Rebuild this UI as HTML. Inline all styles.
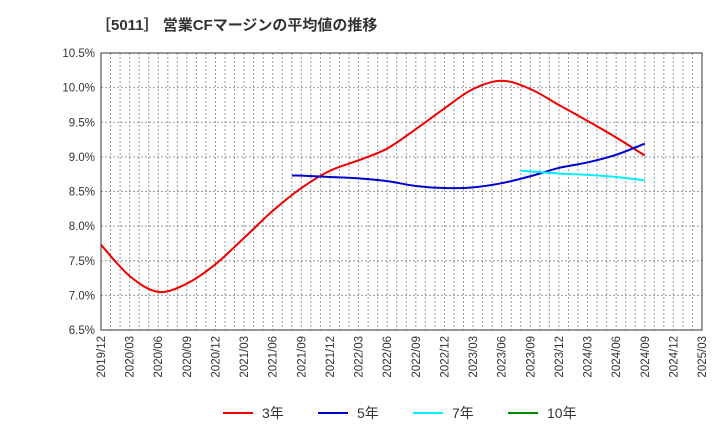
<!DOCTYPE html>
<html><head><meta charset="utf-8"><style>
body{margin:0;background:#fff;font-family:"Liberation Sans","Noto Sans CJK JP",sans-serif;}
</style></head><body>
<svg id="c" width="720" height="440" xmlns="http://www.w3.org/2000/svg">
<text x="96" y="30" font-size="15" font-weight="bold" fill="#333" font-family="Liberation Sans, Noto Sans CJK JP, sans-serif">［5011］ 営業CFマージンの平均値の推移</text>
<g id="grid"></g><g id="axes"></g><g id="series"></g>
<g font-size="14" fill="#333">
<g><line x1="223" y1="413" x2="253" y2="413" stroke="#e00" stroke-width="2"/><text x="262" y="418">3年</text></g>
<g><line x1="318" y1="413" x2="348" y2="413" stroke="#00c" stroke-width="2"/><text x="357" y="418">5年</text></g>
<g><line x1="413" y1="413" x2="443" y2="413" stroke="#0ef" stroke-width="2"/><text x="452" y="418">7年</text></g>
<g><line x1="508" y1="413" x2="538" y2="413" stroke="#080" stroke-width="2"/><text x="547" y="418">10年</text></g>
</g>
</svg>
<script>
const xLabels=["2019/12","2020/03","2020/06","2020/09","2020/12","2021/03","2021/06","2021/09","2021/12","2022/03","2022/06","2022/09","2022/12","2023/03","2023/06","2023/09","2023/12","2024/03","2024/06","2024/09","2024/12","2025/03"];
const yTicks=[6.5,7.0,7.5,8.0,8.5,9.0,9.5,10.0,10.5];
const s3Idx=[0,1,2,3,4,5,6,7,8,9,10,11,12,13,14,15,16,17,18,19];
const s3=[7.73,7.28,7.05,7.17,7.45,7.83,8.22,8.55,8.80,8.95,9.12,9.40,9.70,9.98,10.10,9.98,9.75,9.52,9.28,9.02];
const s5Idx=[6.67,7,8,9,10,11,12,13,14,15,16,17,18,19];
const s5=[8.73,8.73,8.71,8.69,8.65,8.58,8.55,8.56,8.62,8.72,8.84,8.92,9.03,9.19];
const s7Idx=[14.67,15,16,17,18,19];
const s7=[8.80,8.79,8.76,8.74,8.71,8.66];
const X0=101,X1=702,Y0=330,Y1=53;
const xs=i=>X0+(X1-X0)*i/21;
const ys=v=>Y0-(v-6.5)/4*(Y0-Y1);
const NS="http://www.w3.org/2000/svg";
function mk(t,a,p){const e=document.createElementNS(NS,t);for(const k in a)e.setAttribute(k,a[k]);p.appendChild(e);return e;}
const g=document.getElementById('grid'),ax=document.getElementById('axes'),se=document.getElementById('series');
for(let m=1;m<63;m++){const x=X0+(X1-X0)*m/63;const l=mk('line',{x1:x,x2:x,y1:Y1,y2:Y0,stroke:'#999','stroke-dasharray':'2,2'},g);

}
yTicks.forEach(v=>{const y=ys(v);const l=mk('line',{x1:X0,x2:X1,y1:y,y2:y,stroke:'#999','stroke-dasharray':'2,2'},g);


const t=mk('text',{x:X0-6,y:y+4,'text-anchor':'end','font-size':11.5,fill:'#333'},ax);t.textContent=v.toFixed(1)+'%';

});
xLabels.forEach((s,i)=>{const x=xs(i);const t=mk('text',{x:x+4,y:Y0+6,'text-anchor':'end','font-size':11.5,fill:'#333',transform:`rotate(-90 ${x+4} ${Y0+6})`},ax);t.textContent=s;

});
const r=mk('rect',{x:X0,y:Y1,width:X1-X0,height:Y0-Y1,fill:'none',stroke:'#333'},ax);


function path(idx,vals){const p=idx.map((i,k)=>[xs(i),ys(vals[k])]);let d=`M${p[0][0]},${p[0][1]}`;
for(let k=0;k<p.length-1;k++){const a=p[k-1]||p[k],b=p[k],c=p[k+1],e=p[k+2]||c;
d+=` C${b[0]+(c[0]-a[0])/6},${b[1]+(c[1]-a[1])/6} ${c[0]-(e[0]-b[0])/6},${c[1]-(e[1]-b[1])/6} ${c[0]},${c[1]}`;}return d;}
[[s3Idx,s3,'#e00','line-3y'],[s5Idx,s5,'#00c','line-5y'],[s7Idx,s7,'#0ef','line-7y']].forEach(([i,v,c,n])=>{
const p=mk('path',{d:path(i,v),fill:'none',stroke:c,'stroke-width':2},se);

});
</script>
</body></html>
